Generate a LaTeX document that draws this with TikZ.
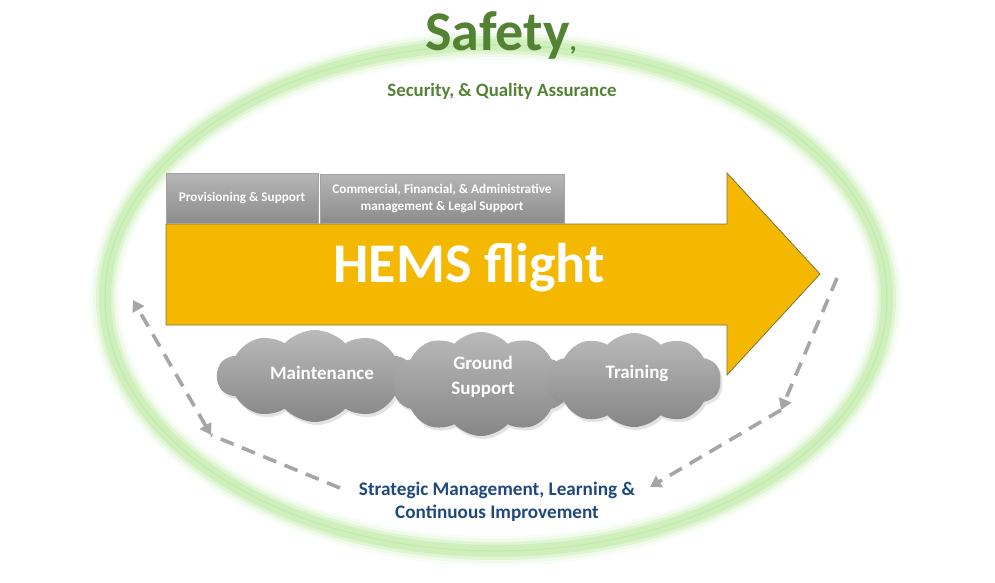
\documentclass[tikz,border=0pt]{standalone}
\usepackage{fontspec}
\setmainfont{Carlito}
\usetikzlibrary{shapes.symbols,shadows,arrows.meta}
\definecolor{arrowfill}{RGB}{245,184,0}
\definecolor{arrowline}{RGB}{125,112,70}
\definecolor{tabtop}{RGB}{182,182,182}
\definecolor{tabbot}{RGB}{140,140,140}
\definecolor{cloudtop}{RGB}{186,186,186}
\definecolor{cloudbot}{RGB}{134,134,134}
\definecolor{safegreen}{RGB}{84,130,53}
\definecolor{bluetxt}{RGB}{31,73,125}
\definecolor{dashgray}{RGB}{166,166,166}
\definecolor{glowgreen}{RGB}{184,232,156}
\definecolor{glowcore}{RGB}{170,222,145}
\begin{document}
\begin{tikzpicture}[x=1pt,y=-1pt,
  >={Triangle[length=11pt,width=13pt]},
  arrowshape/.style={fill=arrowfill,draw=arrowline,line width=0.8pt},
  tabbox/.style={rectangle,top color=tabtop,bottom color=tabbot,draw=tabbot!80,line width=0.4pt,
    inner sep=0pt,text=white,font=\bfseries\fontsize{13.2}{16.5}\selectfont,align=center},
  cloudbox/.style={cloud,cloud puffs=10,cloud puff arc=95,cloud ignores aspect,
    top color=cloudtop,bottom color=cloudbot,draw=none,inner sep=0pt,
    drop shadow={shadow xshift=2pt,shadow yshift=-3pt,opacity=0.22}},
  cloudtext/.style={text=white,font=\bfseries\fontsize{19}{25}\selectfont,align=center,inner sep=0pt},
  dashline/.style={draw=dashgray,line width=3.6pt,dash pattern=on 14pt off 9pt}
]
\useasboundingbox (0,0) rectangle (995,583);
% green glowing ellipse
\foreach \w/\o in {30/0.08,24/0.15,18/0.28,12/0.42}
  \draw[line width=\w pt,draw=glowgreen,opacity=\o] (496,298) ellipse [x radius=391,y radius=253];
\draw[line width=1.2pt,draw=glowcore,opacity=0.35] (496,298) ellipse [x radius=391,y radius=253];

% titles
\node[anchor=base,text=safegreen,font=\bfseries,inner sep=0pt] (safety) at (501,51)
  {{\fontsize{56}{60}\selectfont Safety}{\fontsize{28}{30}\selectfont ,}};
\node[text=safegreen,font=\bfseries\fontsize{18.8}{22}\selectfont,inner sep=0pt] (security) at (502,91)
  {Security, \& Quality Assurance};

% big arrow
\draw[arrowshape] (166,224) -- (727,224) -- (727,173) -- (820,274) -- (727,375) -- (727,325) -- (166,325) -- cycle;
\node[text=white,font=\bfseries\fontsize{56}{60}\selectfont,inner sep=0pt] (hems) at (469,268) {HEMS flight};

% tabs
\node[tabbox,minimum width=152pt,minimum height=50pt] (prov) at (242,198) {Provisioning \& Support};
\node[tabbox,minimum width=244pt,minimum height=49pt] (comm) at (442,198.5)
  {Commercial, Financial, \& Administrative\\management \& Legal Support};

% clouds
\node[cloudbox,minimum width=196pt,minimum height=92pt] (maint) at (315,376) {};
\node[cloudbox,minimum width=176pt,minimum height=104pt] (ground) at (481,384) {};
\node[cloudbox,minimum width=174pt,minimum height=94pt] (train) at (634,380) {};
\node[cloudtext] (maintt) at (322,373) {Maintenance};
\node[cloudtext] (groundt) at (483,376.5) {Ground\\Support};
\node[cloudtext] (traint) at (637,373) {Training};

% dashed cycle
\coordinate (L0) at (340,488);
\coordinate (L1) at (211,435);
\coordinate (L2) at (133,300);
\coordinate (R0) at (837,278);
\coordinate (R1) at (781,410);
\coordinate (R2) at (650,487);
\draw[dashline] (L0) -- (L1);
\draw[dashline,<->] (L1) -- (L2);
\draw[dashline,->] (R0) -- (R1);
\draw[dashline,->] (R1) -- (R2);

% bottom text
\node[text=bluetxt,font=\bfseries\fontsize{19.2}{23}\selectfont,align=center,inner sep=0pt] (strat) at (497,502)
  {Strategic Management, Learning \&\\Continuous Improvement};
\end{tikzpicture}
\end{document}
